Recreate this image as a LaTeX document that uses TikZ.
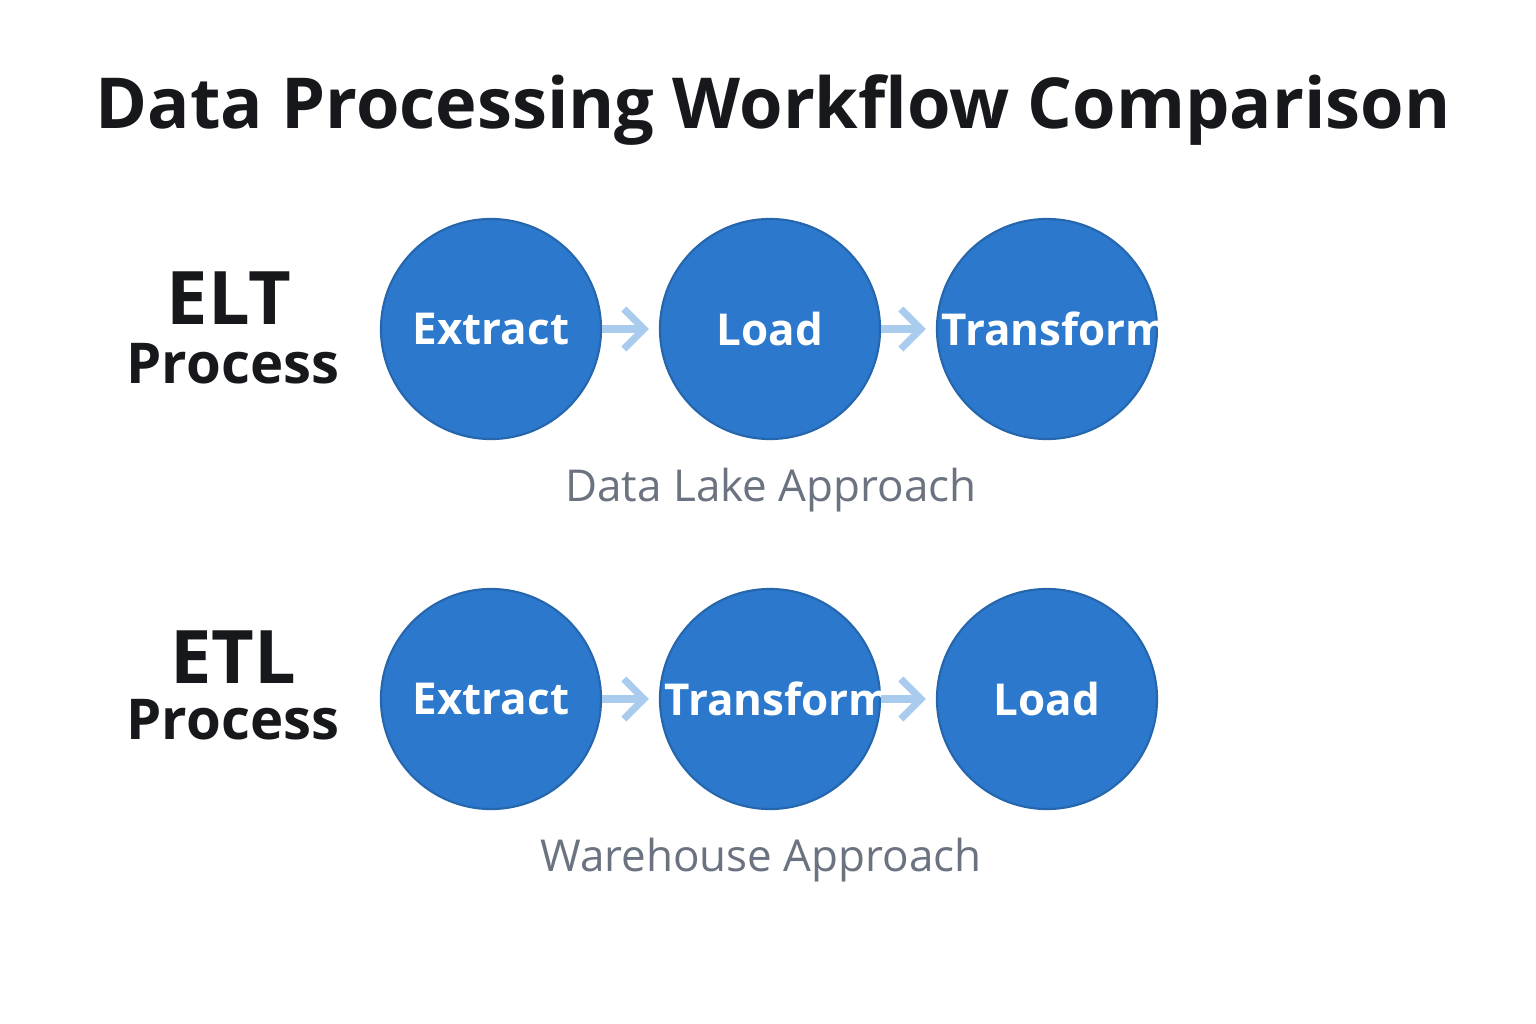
\documentclass[tikz,border=0pt]{standalone}
\usepackage{fontspec}
\setmainfont{Open Sans}
\usetikzlibrary{positioning,arrows.meta}
\definecolor{stepblue}{HTML}{2B78CC}
\definecolor{arrowblue}{HTML}{A9CBEE}
\definecolor{notegray}{HTML}{6B7280}
\definecolor{inkblack}{HTML}{16181C}
\tikzset{
  stepnode/.style={circle, fill=stepblue, draw=stepblue!85!black, line width=0.6pt,
    minimum size=2.2cm, text width=2.1cm, align=center, inner sep=0pt, text=white,
    font=\fontsize{12.5}{15}\selectfont\bfseries},
  flowarrow/.style={draw=arrowblue, line width=2pt, shorten >=10pt*0.01/0.0353,
    -{Straight Barb[length=2mm,width=4mm]}},
  rowlabel/.style={text=inkblack, font=\bfseries},
  notelabel/.style={text=notegray, font=\fontsize{12.5}{14}\selectfont}
}
\begin{document}
\begin{tikzpicture}[x=0.01cm, y=-0.01cm]
	\useasboundingbox[fill=white] (0,0) rectangle (1536,1024);
	\node[text=inkblack, font=\fontsize{20}{24}\selectfont\bfseries] (title) at (773,110) {Data Processing Workflow Comparison};

	% ELT row
	\node[rowlabel, font=\fontsize{21}{24}\selectfont\bfseries] (eltname) at (229,298) {ELT};
	\node[rowlabel, font=\fontsize{16}{19}\selectfont\bfseries] (eltword) at (233,364) {Process};
	\node[stepnode] (eltextract) at (491,329) {Extract};
	\node[stepnode] (eltload) at (770,329) {Load};
	\node[stepnode] (elttransform) at (1047,329) {Transform};
	\draw[flowarrow] (eltextract) -- (eltload);
	\draw[flowarrow] (eltload) -- (elttransform);
	\node[notelabel] (eltnote) at (771,490) {Data Lake Approach};

	% ETL row
	\node[rowlabel, font=\fontsize{21}{24}\selectfont\bfseries] (etlname) at (233,657) {ETL};
	\node[rowlabel, font=\fontsize{16}{19}\selectfont\bfseries] (etlword) at (233,720) {Process};
	\node[stepnode] (etlextract) at (491,699) {Extract};
	\node[stepnode] (etltransform) at (770,699) {Transform};
	\node[stepnode] (etlload) at (1047,699) {Load};
	\draw[flowarrow] (etlextract) -- (etltransform);
	\draw[flowarrow] (etltransform) -- (etlload);
	\node[notelabel] (etlnote) at (761,860) {Warehouse Approach};
\end{tikzpicture}
\end{document}
